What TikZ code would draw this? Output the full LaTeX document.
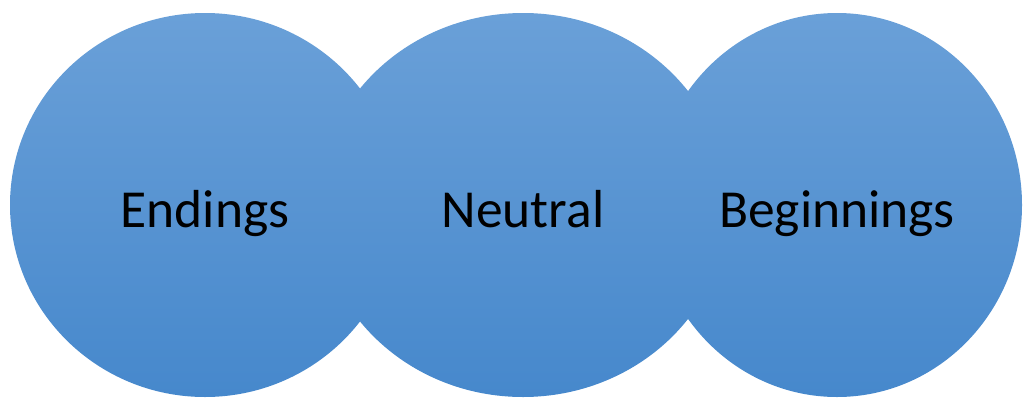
\documentclass[tikz,border=0pt]{standalone}
\usepackage{fontspec}
\setmainfont{Carlito}
\usetikzlibrary{shapes.geometric}
\definecolor{skytop}{RGB}{106,160,216}
\definecolor{skybottom}{RGB}{70,136,204}
\tikzset{
  phase/.style={ellipse,inner sep=0pt,minimum width=#1,minimum height=384pt,
    top color=skytop,bottom color=skybottom,text=black,
    font=\fontsize{53.5}{60}\selectfont,text height=44pt,text depth=0pt},
  phase/.default=390pt,
}
\begin{document}
\begin{tikzpicture}[x=1pt,y=-1pt]
  \useasboundingbox (0,0) rectangle (1024,402);
  \node[phase] (endings) at (205,205) {Endings};
  \node[phase=410pt] (neutral) at (523,205) {Neutral};
  \node[phase=370pt] (beginnings) at (837,205) {Beginnings};
\end{tikzpicture}
\end{document}
